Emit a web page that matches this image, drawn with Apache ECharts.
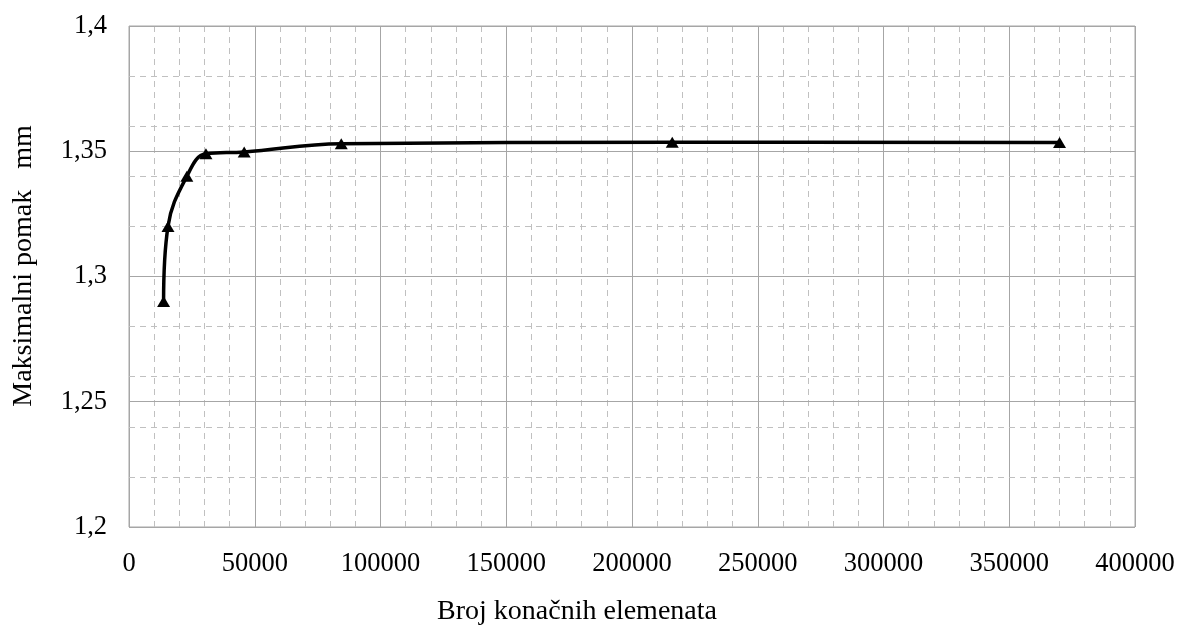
<!DOCTYPE html>
<html>
<head>
<meta charset="utf-8">
<script src="https://cdn.jsdelivr.net/npm/echarts@6/dist/echarts.min.js"></script>
<style>html,body{margin:0;padding:0;background:#fff;}#c{width:1181px;height:629px;}</style>
</head>
<body>
<div id="c"></div>
<script>
var elementCounts = [13750, 15500, 23000, 30600, 45800, 84400, 216000, 370000];
var maxDisplacement = [1.29, 1.32, 1.34, 1.349, 1.3497, 1.353, 1.3536, 1.3535];
var xTitle = 'Broj konačnih elemenata';
var yTitle = 'Maksimalni pomak   mm';

var font = 'Liberation Serif';
var chart = echarts.init(document.getElementById('c'));
var points = elementCounts.map(function (x, i) { return [x, maxDisplacement[i]]; });

chart.setOption({
  backgroundColor: '#fff',
  animation: false,
  grid: { left: 129, right: 46, top: 26, bottom: 102, show: true, borderColor: '#a6a6a6', borderWidth: 1 },
  xAxis: {
    type: 'value', min: 0, max: 400000, interval: 50000,
    axisLine: { show: false }, axisTick: { show: false },
    axisLabel: { fontFamily: font, fontSize: 26.5, color: '#000', margin: 24, formatter: function (v) { return String(v); } },
    splitLine: { show: true, lineStyle: { color: '#a6a6a6', width: 1 } },
    minorTick: { show: false, splitNumber: 5 },
    minorSplitLine: { show: true, lineStyle: { color: '#c0c0c0', type: [6, 5], width: 1 } }
  },
  yAxis: [{
    type: 'value', min: 1.2, max: 1.4, interval: 0.05,
    axisLine: { show: false }, axisTick: { show: false },
    axisLabel: { fontFamily: font, fontSize: 26.5, color: '#000', margin: 22,
      formatter: function (v) { return String(Math.round(v * 100) / 100).replace('.', ','); } },
    splitLine: { show: true, lineStyle: { color: '#a6a6a6', width: 1 } },
    z: 2
  }, {
    type: 'value', min: 1.2, max: 1.4, interval: 0.02, position: 'left',
    axisLine: { show: false }, axisTick: { show: false }, axisLabel: { show: false },
    splitLine: { show: true, lineStyle: { color: '#c0c0c0', type: [6, 5], width: 1 } },
    z: 1
  }],
  graphic: [
    { type: 'text', x: 577, y: 612, style: { text: xTitle, font: '28px "Liberation Serif"', fill: '#000', align: 'center', verticalAlign: 'middle' } },
    { type: 'text', x: 24, y: 266, rotation: Math.PI / 2, style: { text: yTitle, font: '28px "Liberation Serif"', fill: '#000', align: 'center', verticalAlign: 'middle' } }
  ],
  series: [{
    type: 'line', data: points, smooth: 0.4, yAxisIndex: 0,
    lineStyle: { color: '#000', width: 3.5 },
    symbol: 'triangle', symbolSize: [13, 11],
    itemStyle: { color: '#000' },
    z: 5
  }]
});
</script>
</body>
</html>
